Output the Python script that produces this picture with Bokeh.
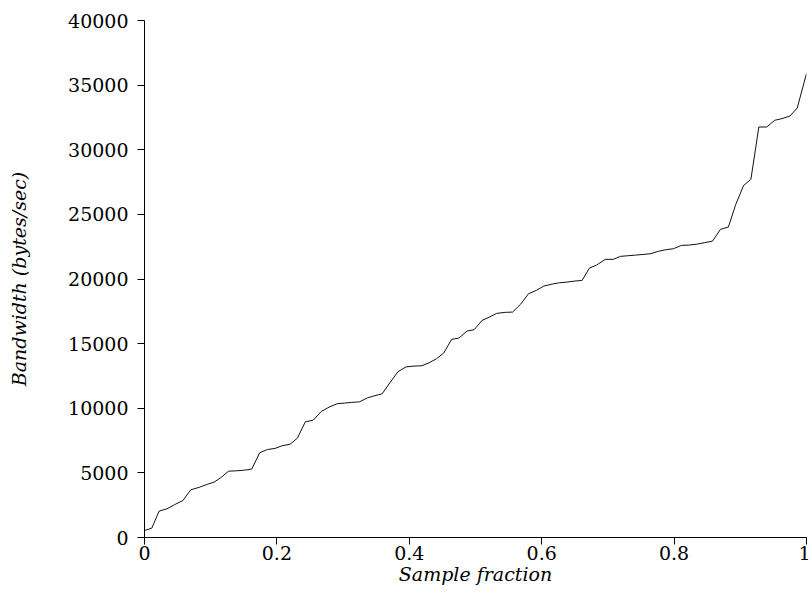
from bokeh.plotting import figure
from bokeh.embed import file_html
from bokeh.resources import INLINE
from bokeh.models import Range1d, FixedTicker

sample_fraction = [
    0.000, 0.011, 0.022, 0.034, 0.045, 0.058, 0.070, 0.083, 0.094, 0.105,
    0.115, 0.127, 0.139, 0.151, 0.162, 0.174, 0.186, 0.197, 0.208, 0.220,
    0.231, 0.243, 0.255, 0.267, 0.279, 0.291, 0.302, 0.313, 0.325, 0.337,
    0.348, 0.359, 0.371, 0.383, 0.395, 0.407, 0.419, 0.430, 0.441, 0.452,
    0.464, 0.475, 0.487, 0.498, 0.510, 0.521, 0.532, 0.545, 0.556, 0.568,
    0.580, 0.592, 0.603, 0.616, 0.627, 0.638, 0.650, 0.661, 0.672, 0.683,
    0.696, 0.708, 0.719, 0.730, 0.742, 0.753, 0.765, 0.776, 0.788, 0.799,
    0.811, 0.822, 0.835, 0.846, 0.858, 0.870, 0.882, 0.893, 0.905, 0.916,
    0.928, 0.940, 0.952, 0.963, 0.975, 0.986, 1.000,
]
bandwidth = [
    540, 720, 2040, 2220, 2530, 2860, 3690, 3890, 4100, 4280,
    4620, 5130, 5160, 5210, 5290, 6560, 6810, 6890, 7100, 7220,
    7690, 8950, 9080, 9750, 10090, 10350, 10400, 10450, 10500, 10810,
    10970, 11120, 12000, 12830, 13200, 13260, 13290, 13520, 13830, 14270,
    15330, 15430, 15970, 16080, 16800, 17050, 17340, 17420, 17440, 18040,
    18860, 19120, 19450, 19610, 19710, 19760, 19840, 19890, 20840, 21080,
    21520, 21520, 21750, 21800, 21850, 21900, 21960, 22140, 22270, 22340,
    22600, 22620, 22700, 22810, 22930, 23840, 24020, 25750, 27240, 27710,
    31760, 31760, 32280, 32410, 32610, 33230, 35900,
]
x_ticks = [0, 0.2, 0.4, 0.6, 0.8, 1]
x_tick_labels = ["0", "0.2", "0.4", "0.6", "0.8", "1"]
y_ticks = [0, 5000, 10000, 15000, 20000, 25000, 30000, 35000, 40000]

FONT = "DejaVu Serif"

p = figure(width=810, height=596, output_backend="svg", toolbar_location=None,
           x_range=Range1d(0, 1), y_range=Range1d(0, 40000),
           min_border_left=144, min_border_right=4, min_border_top=20,
           min_border_bottom=59)
p.outline_line_color = None
p.grid.visible = False
p.background_fill_color = "white"

p.line(sample_fraction, bandwidth, line_color="#111111", line_width=1)

p.xaxis.ticker = FixedTicker(ticks=x_ticks)
p.xaxis.major_label_overrides = {t: l for t, l in zip(x_ticks, x_tick_labels)}
p.yaxis.ticker = FixedTicker(ticks=y_ticks)

for ax in (p.xaxis, p.yaxis):
    ax.axis_line_color = "black"
    ax.axis_line_width = 1
    ax.major_tick_line_color = "black"
    ax.major_tick_in = 0
    ax.major_tick_out = 7
    ax.minor_tick_line_color = None
    ax.major_label_text_font = FONT
    ax.major_label_text_font_size = "19px"
    ax.major_label_text_color = "black"
    ax.axis_label_text_font = FONT
    ax.axis_label_text_font_style = "italic"
    ax.axis_label_text_font_size = "19px"
    ax.axis_label_text_color = "black"

p.xaxis.axis_label = "Sample fraction"
p.yaxis.axis_label = "Bandwidth (bytes/sec)"
p.xaxis.major_label_standoff = 1
p.xaxis.axis_label_standoff = 0
p.yaxis.major_label_standoff = 9
p.yaxis.axis_label_standoff = 35

open("out.html", "w").write(file_html(p, INLINE))
